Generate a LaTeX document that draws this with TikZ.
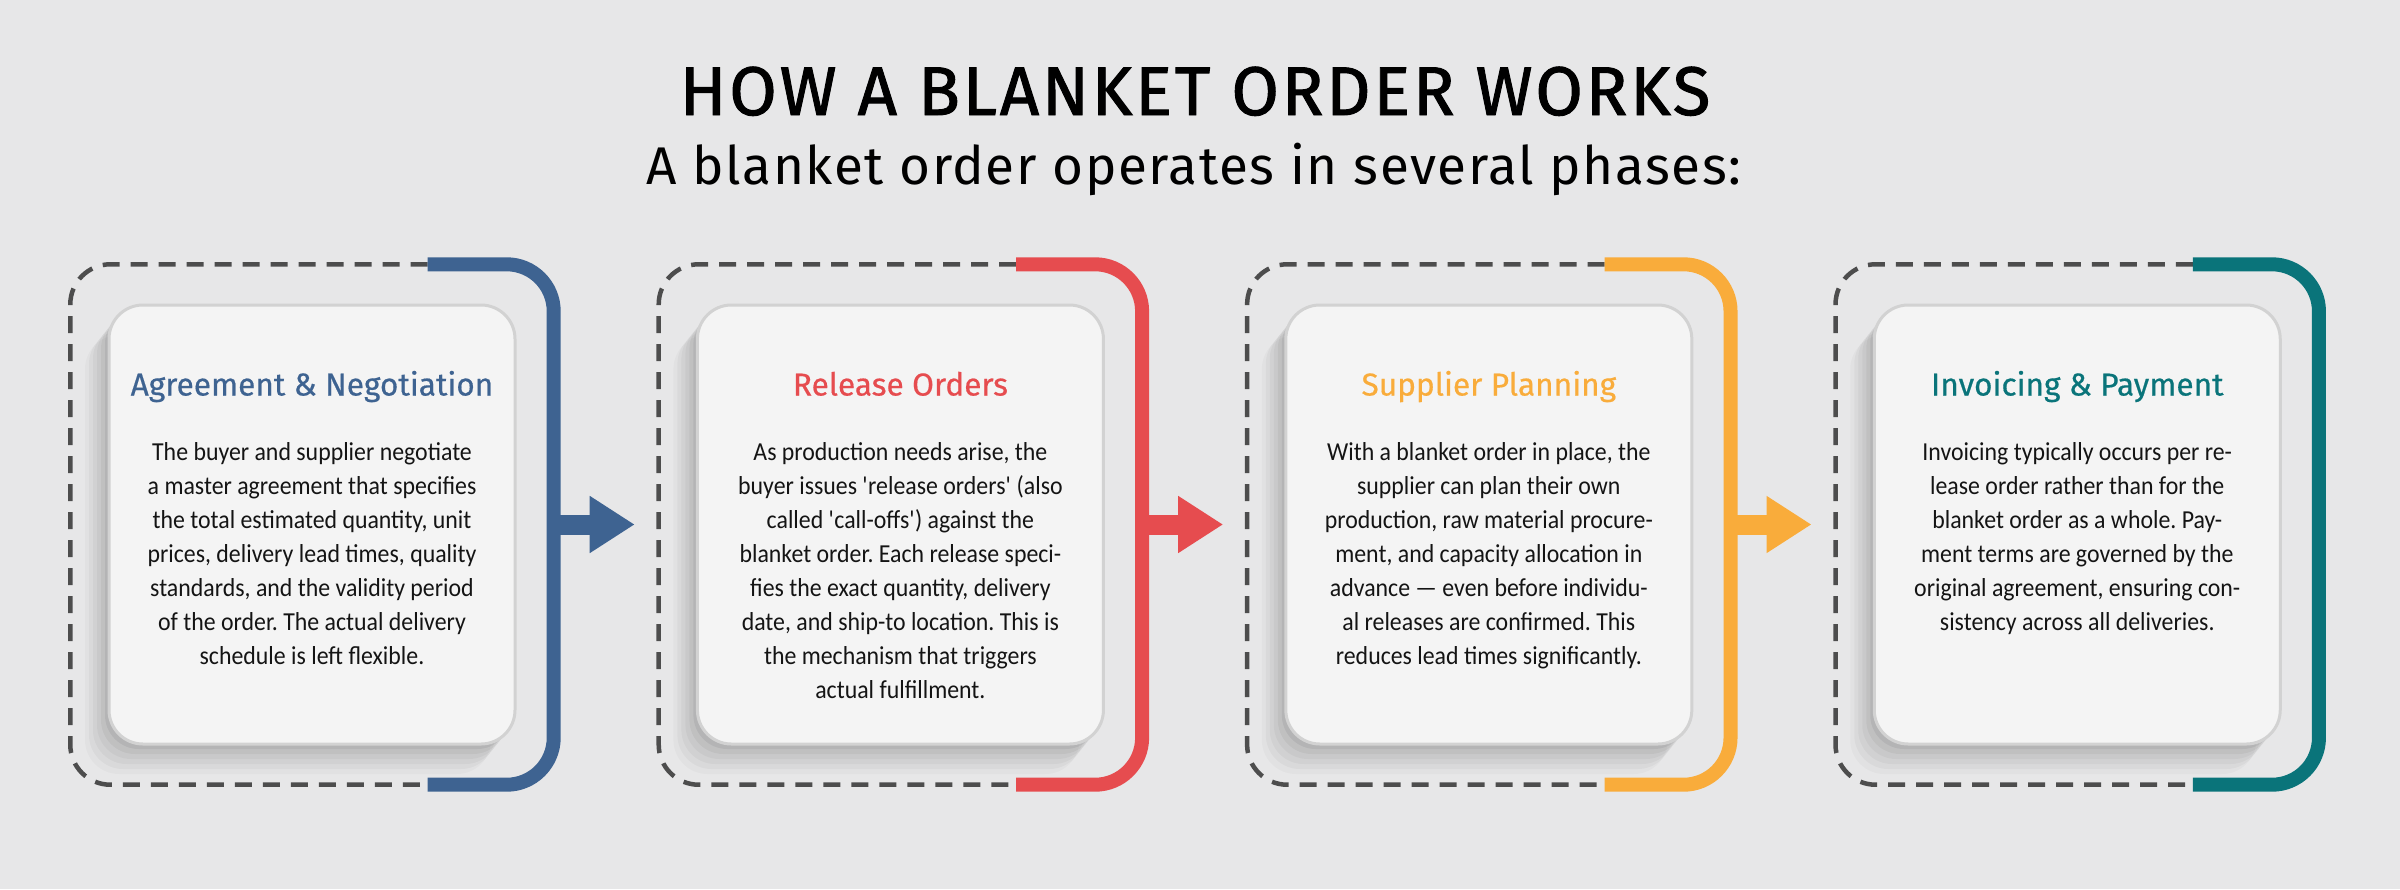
\documentclass[tikz,border=0pt]{standalone}
\usepackage{fontspec}
\setmainfont[FakeStretch=0.92]{Carlito}
\newfontfamily\headfont[FakeBold=0.5]{Fira Sans}
\newfontfamily\bannerfont[FakeBold=1.4, LetterSpace=4]{Fira Sans}
\newfontfamily\subfont[LetterSpace=3]{Fira Sans}
\usetikzlibrary{arrows.meta, positioning, shadows}
\definecolor{bgGray}{RGB}{231,231,232}
\definecolor{cardFill}{RGB}{244,244,244}
\definecolor{cardLine}{RGB}{210,210,210}
\definecolor{dashGray}{RGB}{77,77,77}
\definecolor{bodyText}{RGB}{20,20,20}
\definecolor{phaseBlue}{RGB}{62,99,145}
\definecolor{phaseRed}{RGB}{230,76,79}
\definecolor{phaseOrange}{RGB}{249,172,59}
\definecolor{phaseTeal}{RGB}{10,116,122}
\tikzset{
    phasezone/.style={rectangle, minimum width=4.82cm, minimum height=5.19cm, inner sep=0pt},
    dashedge/.style={draw=dashGray, line width=0.045cm, dash pattern=on 0.17cm off 0.11cm, rounded corners=0.4cm},
    bracket/.style={line width=0.14cm, rounded corners=0.47cm},
    card/.style={rectangle, rounded corners=0.34cm, draw=cardLine, line width=0.03cm, fill=cardFill, minimum width=4.06cm, minimum height=4.39cm,
        drop shadow={shadow xshift=-0.04cm, shadow yshift=-0.05cm, opacity=0.05, fill=black},
        drop shadow={shadow xshift=-0.08cm, shadow yshift=-0.10cm, opacity=0.045, fill=black},
        drop shadow={shadow xshift=-0.12cm, shadow yshift=-0.15cm, opacity=0.04, fill=black},
        drop shadow={shadow xshift=-0.16cm, shadow yshift=-0.20cm, opacity=0.035, fill=black},
        drop shadow={shadow xshift=-0.20cm, shadow yshift=-0.25cm, opacity=0.03, fill=black},
        drop shadow={shadow xshift=-0.24cm, shadow yshift=-0.30cm, opacity=0.025, fill=black}},
    heading/.style={font=\headfont\fontsize{9.0}{11}\selectfont, inner sep=0pt, anchor=base},
    body/.style={font=\fontsize{7.37}{9.67}\selectfont, text=bodyText, align=center, inner sep=0pt, anchor=north},
    flow/.style={line width=0.2cm, -{Triangle[length=0.45cm, width=0.54cm]}, shorten >=0.24cm},
}
\frenchspacing
\begin{document}
\begin{tikzpicture}
    \fill[bgGray] (0,0) rectangle (24,-8.89);
    \useasboundingbox (0,0) rectangle (24,-8.89);

    % Title
    \node[font=\bannerfont\fontsize{19.6}{24}\selectfont, anchor=base] (title) at (11.95,-1.15) {HOW A BLANKET ORDER WORKS};
    \node[font=\subfont\fontsize{15.1}{18}\selectfont, anchor=base] (subtitle) at (11.94,-1.84) {A blanket order operates in several phases:};

    % Phase zones
    \node[phasezone] (zoneA) at (3.12,-5.245) {};
    \node[phasezone, right=1.05cm of zoneA] (zoneB) {};
    \node[phasezone, right=1.05cm of zoneB] (zoneC) {};
    \node[phasezone, right=1.05cm of zoneC] (zoneD) {};

    % Dashed outlines
    \draw[dashedge] ([xshift=-1.26cm]zoneA.north east) -- (zoneA.north west) -- (zoneA.south west) -- ([xshift=-1.26cm]zoneA.south east);
    \draw[dashedge] ([xshift=-1.26cm]zoneB.north east) -- (zoneB.north west) -- (zoneB.south west) -- ([xshift=-1.26cm]zoneB.south east);
    \draw[dashedge] ([xshift=-1.26cm]zoneC.north east) -- (zoneC.north west) -- (zoneC.south west) -- ([xshift=-1.26cm]zoneC.south east);
    \draw[dashedge] ([xshift=-1.26cm]zoneD.north east) -- (zoneD.north west) -- (zoneD.south west) -- ([xshift=-1.26cm]zoneD.south east);

    % Brackets
    \draw[bracket, phaseBlue] ([xshift=-1.26cm]zoneA.north east) -- (zoneA.north east) -- (zoneA.south east) -- ([xshift=-1.26cm]zoneA.south east);
    \draw[bracket, phaseRed] ([xshift=-1.26cm]zoneB.north east) -- (zoneB.north east) -- (zoneB.south east) -- ([xshift=-1.26cm]zoneB.south east);
    \draw[bracket, phaseOrange] ([xshift=-1.26cm]zoneC.north east) -- (zoneC.north east) -- (zoneC.south east) -- ([xshift=-1.26cm]zoneC.south east);
    \draw[bracket, phaseTeal] ([xshift=-1.26cm]zoneD.north east) -- (zoneD.north east) -- (zoneD.south east) -- ([xshift=-1.26cm]zoneD.south east);

    % Arrows
    \draw[flow, phaseBlue] (zoneA.east) -- (zoneB.west);
    \draw[flow, phaseRed] (zoneB.east) -- (zoneC.west);
    \draw[flow, phaseOrange] (zoneC.east) -- (zoneD.west);

    % Cards
    \node[card] (cardA) at (zoneA) {};
    \node[card] (cardB) at (zoneB) {};
    \node[card] (cardC) at (zoneC) {};
    \node[card] (cardD) at (zoneD) {};

    % Headings
    \node[heading, text=phaseBlue] (headA) at ([yshift=-0.92cm]cardA.north) {Agreement \& Negotiation};
    \node[heading, text=phaseRed] (headB) at ([yshift=-0.92cm]cardB.north) {Release Orders};
    \node[heading, text=phaseOrange] (headC) at ([yshift=-0.92cm]cardC.north) {Supplier Planning};
    \node[heading, text=phaseTeal] (headD) at ([yshift=-0.92cm]cardD.north) {Invoicing \& Payment};

    % Body texts
    \node[body] (textA) at ([yshift=-1.38cm]cardA.north) {The buyer and supplier negotiate\\
        a master agreement that specifies\\
        the total estimated quantity, unit\\
        prices, delivery lead times, quality\\
        standards, and the validity period\\
        of the order. The actual delivery\\
        schedule is left flexible.};
    \node[body] (textB) at ([yshift=-1.38cm]cardB.north) {As production needs arise, the\\
        buyer issues \textquotesingle release orders\textquotesingle\ (also\\
        called \textquotesingle call-offs\textquotesingle) against the\\
        blanket order. Each release speci-\\
        fies the exact quantity, delivery\\
        date, and ship-to location. This is\\
        the mechanism that triggers\\
        actual fulfillment.};
    \node[body] (textC) at ([yshift=-1.38cm]cardC.north) {With a blanket order in place, the\\
        supplier can plan their own\\
        production, raw material procure-\\
        ment, and capacity allocation in\\
        advance --- even before individu-\\
        al releases are confirmed. This\\
        reduces lead times significantly.};
    \node[body] (textD) at ([yshift=-1.38cm]cardD.north) {Invoicing typically occurs per re-\\
        lease order rather than for the\\
        blanket order as a whole. Pay-\\
        ment terms are governed by the\\
        original agreement, ensuring con-\\
        sistency across all deliveries.};
\end{tikzpicture}
\end{document}
